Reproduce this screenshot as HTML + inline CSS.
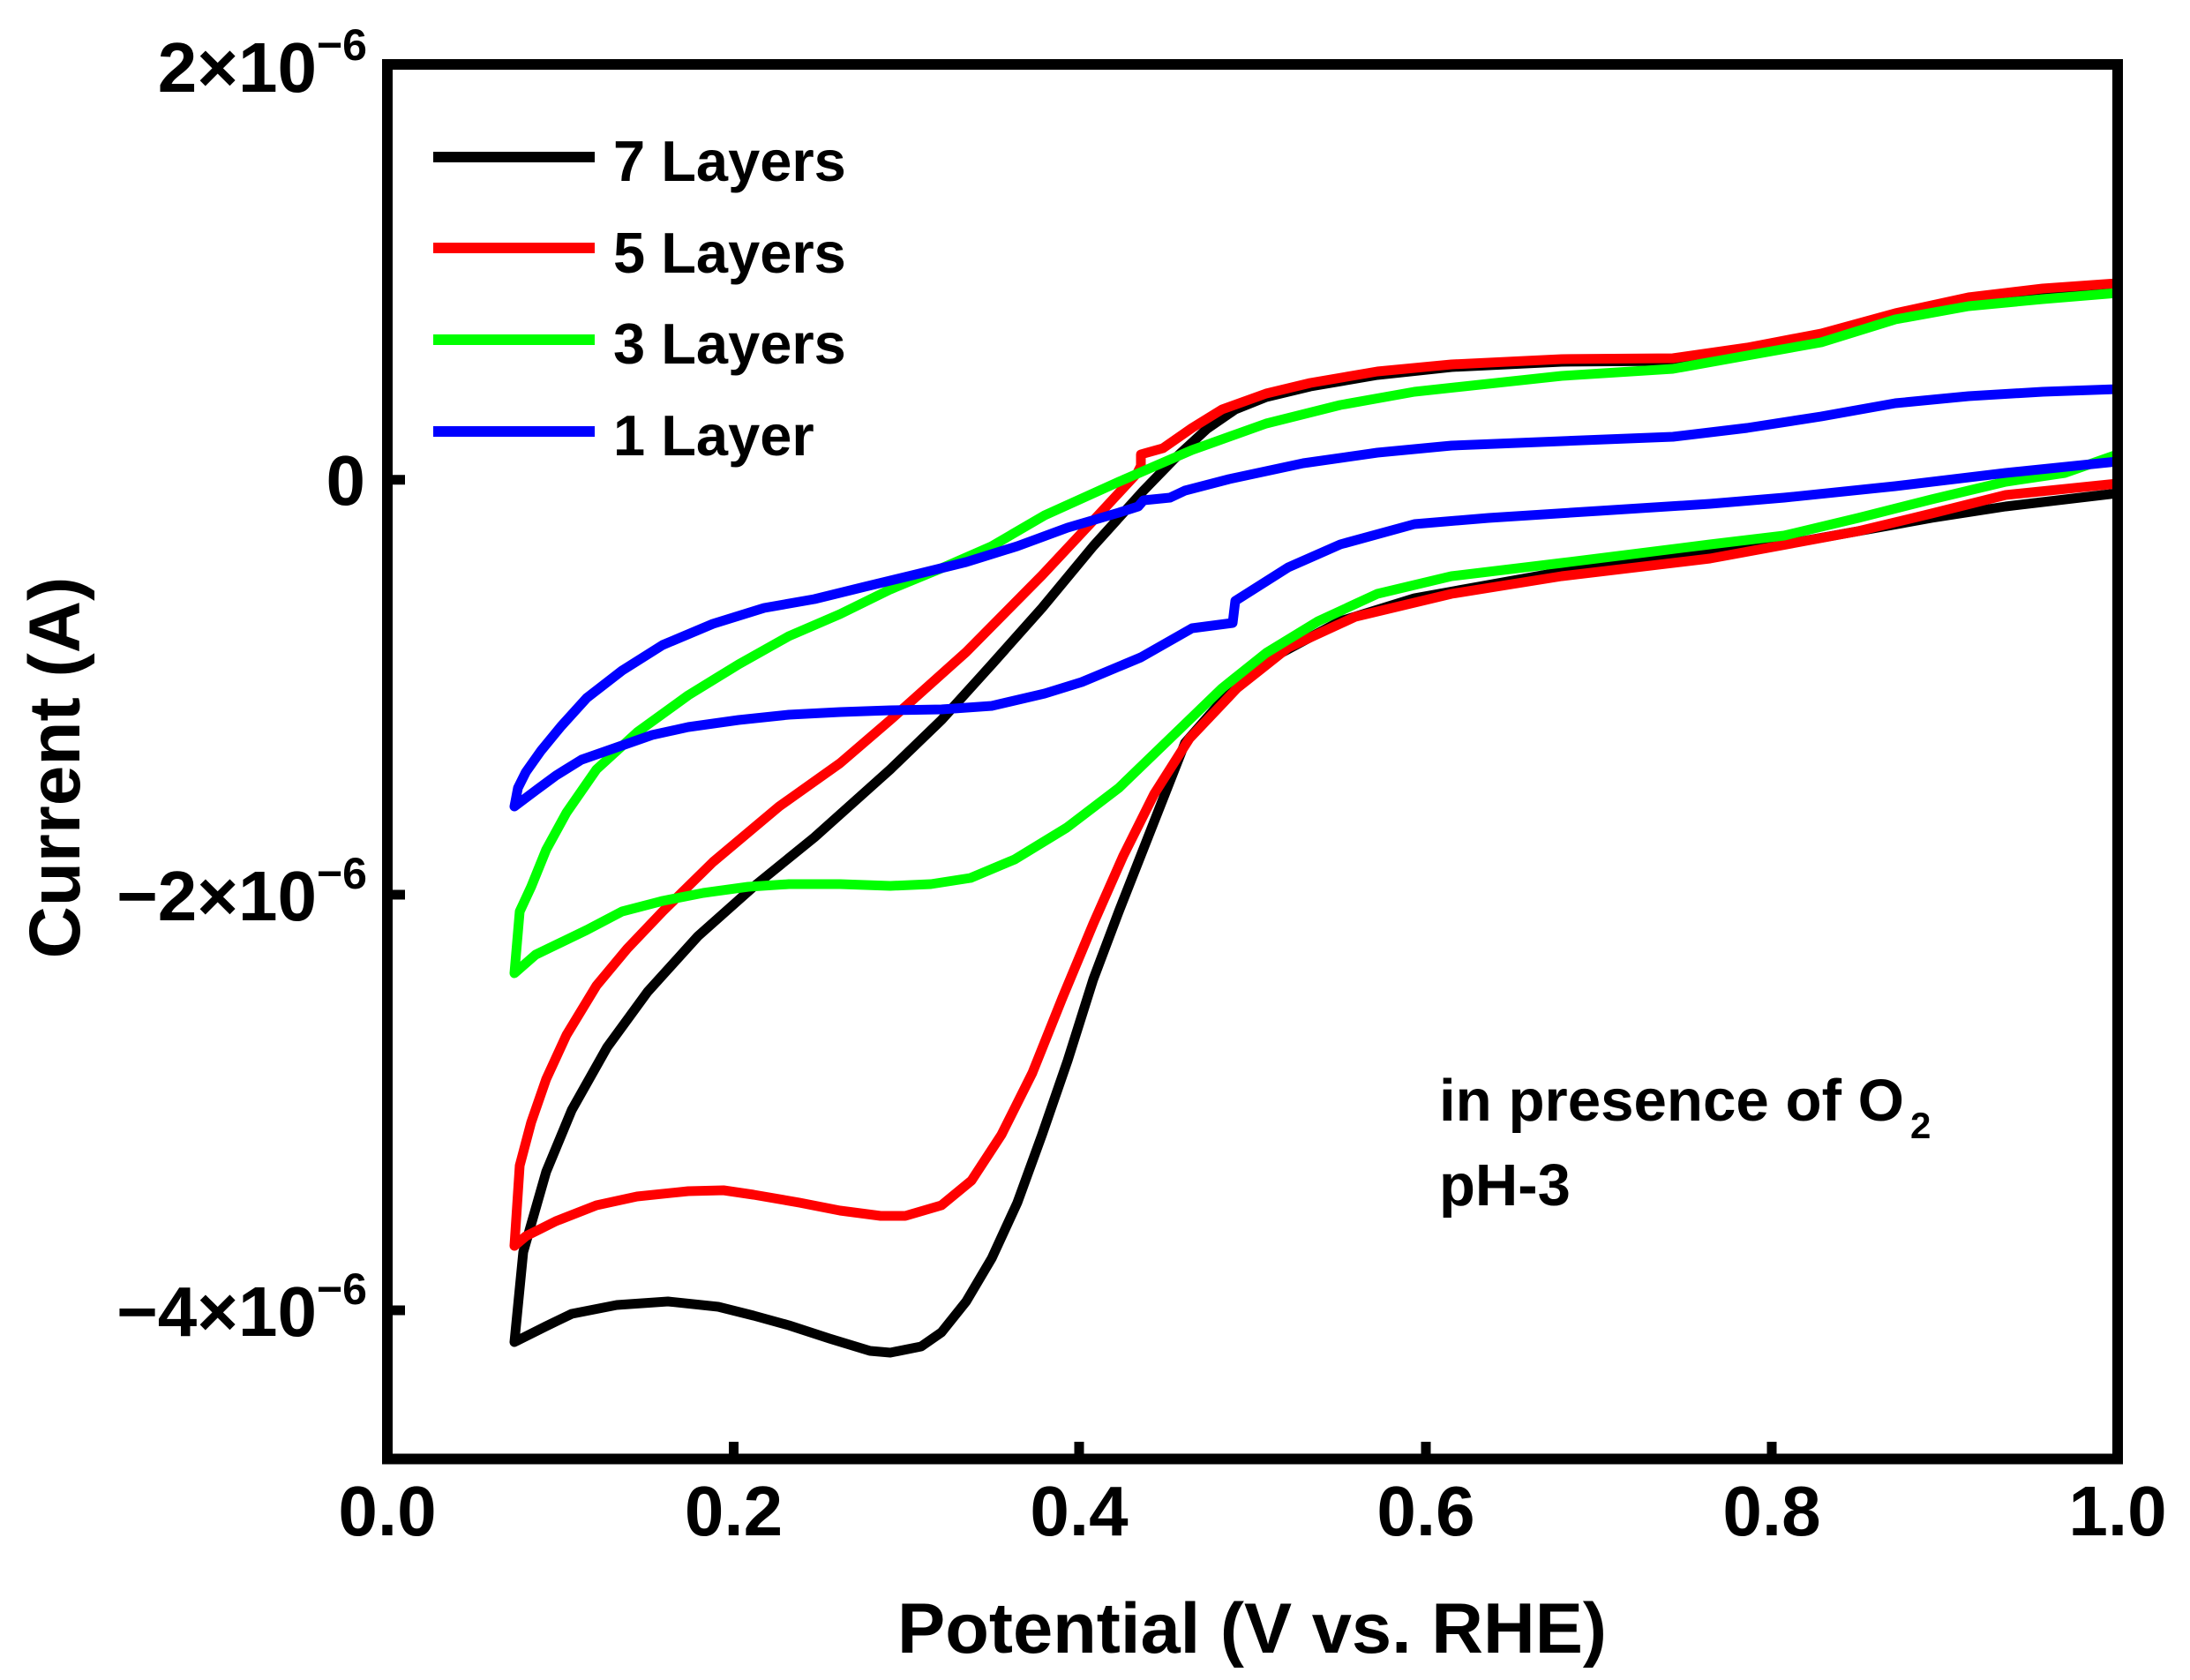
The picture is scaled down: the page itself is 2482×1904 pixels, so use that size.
<!DOCTYPE html>
<html>
<head>
<meta charset="utf-8">
<style>
html,body{margin:0;padding:0;background:#fff;}
svg{display:block;}
text{font-family:"Liberation Sans",Arial,sans-serif;font-weight:bold;fill:#000;}
</style>
</head>
<body>
<svg width="2482" height="1904" viewBox="0 0 2482 1904" xmlns="http://www.w3.org/2000/svg">
<rect x="0" y="0" width="2482" height="1904" fill="#fff"/>

<g fill="none" stroke-width="11" stroke-linejoin="round" stroke-linecap="round">
<!-- 7 Layers (black) -->
<polyline stroke="#000" points="2400,559 2273,574 2189,587 2106,602 2022,617 1938,627 1770,648 1603,678 1519,704 1452,740 1393,785 1343,842 1301,949 1268,1033 1239,1110 1210,1202 1181,1286 1153,1363 1124,1426 1095,1475 1067,1510 1044,1526 1009,1533 986,1531 940,1517 894,1502 854,1491 814,1481 757,1475 699,1479 648,1489 619,1503 583,1521 593,1419 619,1328 648,1258 688,1187 734,1124 791,1061 854,1005 923,949 1009,872 1067,816 1124,753 1181,689 1239,619 1296,556 1330,521 1368,486 1400,464 1435,450 1485,438 1561,425 1645,416 1770,410 1896,409 1980,397 2064,381 2148,358 2231,340 2315,330 2400,324"/>
<!-- 5 Layers (red) -->
<polyline stroke="#f00" points="2400,548 2273,561 2189,582 2106,602 1938,633 1770,653 1645,673 1536,699 1460,734 1402,780 1348,837 1308,900 1273,970 1239,1047 1204,1131 1170,1216 1135,1286 1101,1338 1067,1366 1026,1378 998,1378 952,1372 906,1363 854,1354 820,1349 780,1350 722,1356 676,1366 630,1384 596,1401 583,1412 589,1321 602,1272 619,1223 642,1173 676,1117 711,1075 751,1033 808,977 883,914 952,865 1009,816 1095,739 1181,652 1239,590 1289,536 1293,528 1293,515 1318,508 1351,485 1385,464 1435,446 1485,434 1561,421 1645,413 1770,407 1896,406 1980,394 2064,378 2148,355 2231,337 2315,327 2400,321"/>
<!-- 3 Layers (green) -->
<polyline stroke="#0f0" points="2400,515 2340,536 2273,546 2189,566 2106,587 2022,607 1938,617 1770,638 1645,653 1561,673 1494,704 1435,740 1385,780 1326,837 1268,893 1209,938 1150,974 1100,995 1055,1002 1009,1004 952,1002 894,1002 848,1005 797,1012 751,1021 705,1033 665,1054 636,1068 607,1082 583,1103 589,1033 602,1005 619,963 642,921 676,872 722,830 780,788 837,753 894,721 952,696 1009,668 1067,644 1124,619 1184,584 1268,546 1351,510 1435,480 1519,459 1603,444 1770,426 1896,418 1980,403 2064,388 2148,362 2231,347 2315,339 2400,332"/>
<!-- 1 Layer (blue) -->
<polyline stroke="#00f" points="2400,523 2273,536 2148,551 2022,564 1938,571 1812,579 1687,587 1603,594 1519,617 1460,643 1400,681 1397,706 1351,712 1293,745 1226,773 1184,786 1124,800 1067,804 1009,805 952,807 894,810 837,816 780,824 739,833 699,847 659,861 630,879 607,896 583,914 587,893 596,875 613,851 636,823 665,791 705,760 751,731 808,707 866,689 923,679 980,665 1038,651 1095,637 1153,619 1210,598 1268,581 1290,574 1296,567 1326,564 1343,556 1393,543 1477,525 1561,513 1645,505 1770,500 1896,495 1980,485 2064,472 2148,457 2231,449 2315,444 2400,441"/>
</g>

<!-- frame -->
<rect x="439" y="73" width="1961" height="1580.5" fill="none" stroke="#000" stroke-width="12"/>
<g stroke="#000" stroke-width="11">
<line x1="831.5" y1="1653" x2="831.5" y2="1634"/>
<line x1="1223" y1="1653" x2="1223" y2="1634"/>
<line x1="1616" y1="1653" x2="1616" y2="1634"/>
<line x1="2008" y1="1653" x2="2008" y2="1634"/>
<line x1="439" y1="543.7" x2="459" y2="543.7"/>
<line x1="439" y1="1014" x2="459" y2="1014"/>
<line x1="439" y1="1485" x2="459" y2="1485"/>
</g>

<!-- y tick labels -->
<text x="416" y="104" font-size="80" text-anchor="end">2×10<tspan font-size="50" dy="-36">−6</tspan></text>
<text x="414" y="572" font-size="80" text-anchor="end">0</text>
<text x="416" y="1043" font-size="80" text-anchor="end">−2×10<tspan font-size="50" dy="-36">−6</tspan></text>
<text x="416" y="1514" font-size="80" text-anchor="end">−4×10<tspan font-size="50" dy="-36">−6</tspan></text>

<!-- x tick labels -->
<text x="439" y="1740" font-size="80" text-anchor="middle">0.0</text>
<text x="831.5" y="1740" font-size="80" text-anchor="middle">0.2</text>
<text x="1223" y="1740" font-size="80" text-anchor="middle">0.4</text>
<text x="1616" y="1740" font-size="80" text-anchor="middle">0.6</text>
<text x="2008" y="1740" font-size="80" text-anchor="middle">0.8</text>
<text x="2400" y="1740" font-size="80" text-anchor="middle">1.0</text>

<!-- axis titles -->
<text x="1017" y="1873" font-size="81" textLength="804" lengthAdjust="spacingAndGlyphs">Potential (V vs. RHE)</text>
<text transform="translate(90,870) rotate(-90)" x="0" y="0" font-size="82" text-anchor="middle">Current (A)</text>

<!-- legend -->
<g stroke-width="12">
<line x1="491" y1="178" x2="674" y2="178" stroke="#000"/>
<line x1="491" y1="281" x2="674" y2="281" stroke="#f00"/>
<line x1="491" y1="385" x2="674" y2="385" stroke="#0f0"/>
<line x1="491" y1="489" x2="674" y2="489" stroke="#00f"/>
</g>
<text x="695" y="205" font-size="65">7 Layers</text>
<text x="695" y="309" font-size="65">5 Layers</text>
<text x="695" y="412" font-size="65">3 Layers</text>
<text x="695" y="516" font-size="65">1 Layer</text>

<!-- annotation -->
<text x="1631" y="1270" font-size="67" textLength="527" lengthAdjust="spacingAndGlyphs">in presence of O</text>
<text x="2165" y="1290" font-size="42">2</text>
<text x="1631" y="1366" font-size="67">pH-3</text>
</svg>
</body>
</html>
